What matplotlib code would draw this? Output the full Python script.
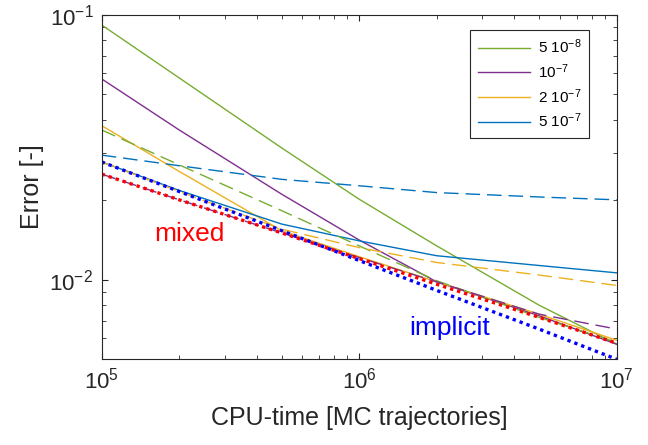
import matplotlib
matplotlib.use("Agg")
import matplotlib.pyplot as plt

plt.rcParams["font.family"] = ["Liberation Sans", "DejaVu Sans"]
plt.rcParams["mathtext.fontset"] = "custom"
plt.rcParams["mathtext.rm"] = "Liberation Sans"
plt.rcParams["mathtext.it"] = "Liberation Sans:italic"
plt.rcParams["mathtext.bf"] = "Liberation Sans:bold"

CPU = [1e5, 2e5, 5e5, 1e6, 2e6, 5e6, 1e7]

# implicit scheme (solid)
IMP_5e8 = [0.0914, 0.0577, 0.0314, 0.0201, 0.0134, 0.0080, 0.0057]
IMP_1e7 = [0.0572, 0.0367, 0.0210, 0.0141, 0.0098, 0.0073, 0.0057]
IMP_2e7 = [0.0381, 0.0256, 0.0153, 0.0122, 0.0098, 0.0074, 0.0059]
IMP_5e7 = [0.0278, 0.0217, 0.0162, 0.0140, 0.0123, 0.0113, 0.0106]

# mixed scheme (dashed)
MIX_5e8 = [0.0367, 0.0271, 0.0182, 0.0134, 0.0099, 0.0072, 0.0058]
MIX_1e7 = [0.0250, 0.0200, 0.0150, 0.0121, 0.0098, 0.0074, 0.0065]
MIX_2e7 = [0.0278, 0.0215, 0.0155, 0.0132, 0.0116, 0.0104, 0.0095]
MIX_5e7 = [0.0295, 0.0269, 0.0239, 0.0226, 0.0213, 0.0205, 0.0200]

# reference envelopes (dotted)
REF_MIXED = [0.0250, 0.0200, 0.0150, 0.0120, 0.0096, 0.0072, 0.00575]
REF_IMPLICIT = [0.0278, 0.0215, 0.0153, 0.0118, 0.0091, 0.0065, 0.0050]

LABELS = ["5 10$^{-8}$", "10$^{-7}$", "2 10$^{-7}$", "5 10$^{-7}$"]
COLORS = ["#77AC30", "#7E2F8E", "#EDB120", "#0072BD"]

fig = plt.figure(figsize=(6.48, 4.45), dpi=100)
ax = fig.add_axes([0.157, 0.1926, 0.7947, 0.7744])

solid = [IMP_5e8, IMP_1e7, IMP_2e7, IMP_5e7]
dashed = [MIX_5e8, MIX_1e7, MIX_2e7, MIX_5e7]

for vals, col, lab in zip(solid, COLORS, LABELS):
    ax.plot(CPU, vals, color=col, lw=1.0, label=lab)
for vals, col in zip(dashed, COLORS):
    ax.plot(CPU, vals, color=col, lw=1.0, dashes=(10.5, 5))

ax.plot(CPU, REF_MIXED, color="red", lw=2.4, linestyle=(0, (1, 1.2)))
ax.plot(CPU, REF_IMPLICIT, color="blue", lw=2.4, linestyle=(0, (1, 1.2)))

ax.text(2.19e5, 0.0149, "mixed", color="red", fontsize=19, ha="center", va="center")
ax.text(2.25e6, 0.00656, "implicit", color="blue", fontsize=19, ha="center", va="center")

ax.set_xscale("log")
ax.set_yscale("log")
ax.set_xlim(1e5, 1e7)
ax.set_ylim(0.005, 0.1)

dark = "#262626"
for sp in ax.spines.values():
    sp.set_color(dark)
    sp.set_linewidth(0.8)
ax.tick_params(which="both", direction="in", top=True, right=True, color=dark, labelcolor=dark)
ax.tick_params(which="major", length=4, labelsize=16, pad=6)
ax.tick_params(which="minor", length=3)

ax.set_xlabel("CPU-time [MC trajectories]", fontsize=18, color=dark, labelpad=9)
ax.set_ylabel("Error [-]", fontsize=18, color=dark, labelpad=4)

leg = ax.legend(loc="upper right", bbox_to_anchor=(0.946, 0.956), borderaxespad=0,
                fontsize=11, handlelength=3.4, handletextpad=0.5, labelspacing=0.4,
                borderpad=0.5, fancybox=False, framealpha=1, edgecolor=dark)
leg.get_frame().set_linewidth(0.8)

fig.savefig("out.png", dpi=100)
